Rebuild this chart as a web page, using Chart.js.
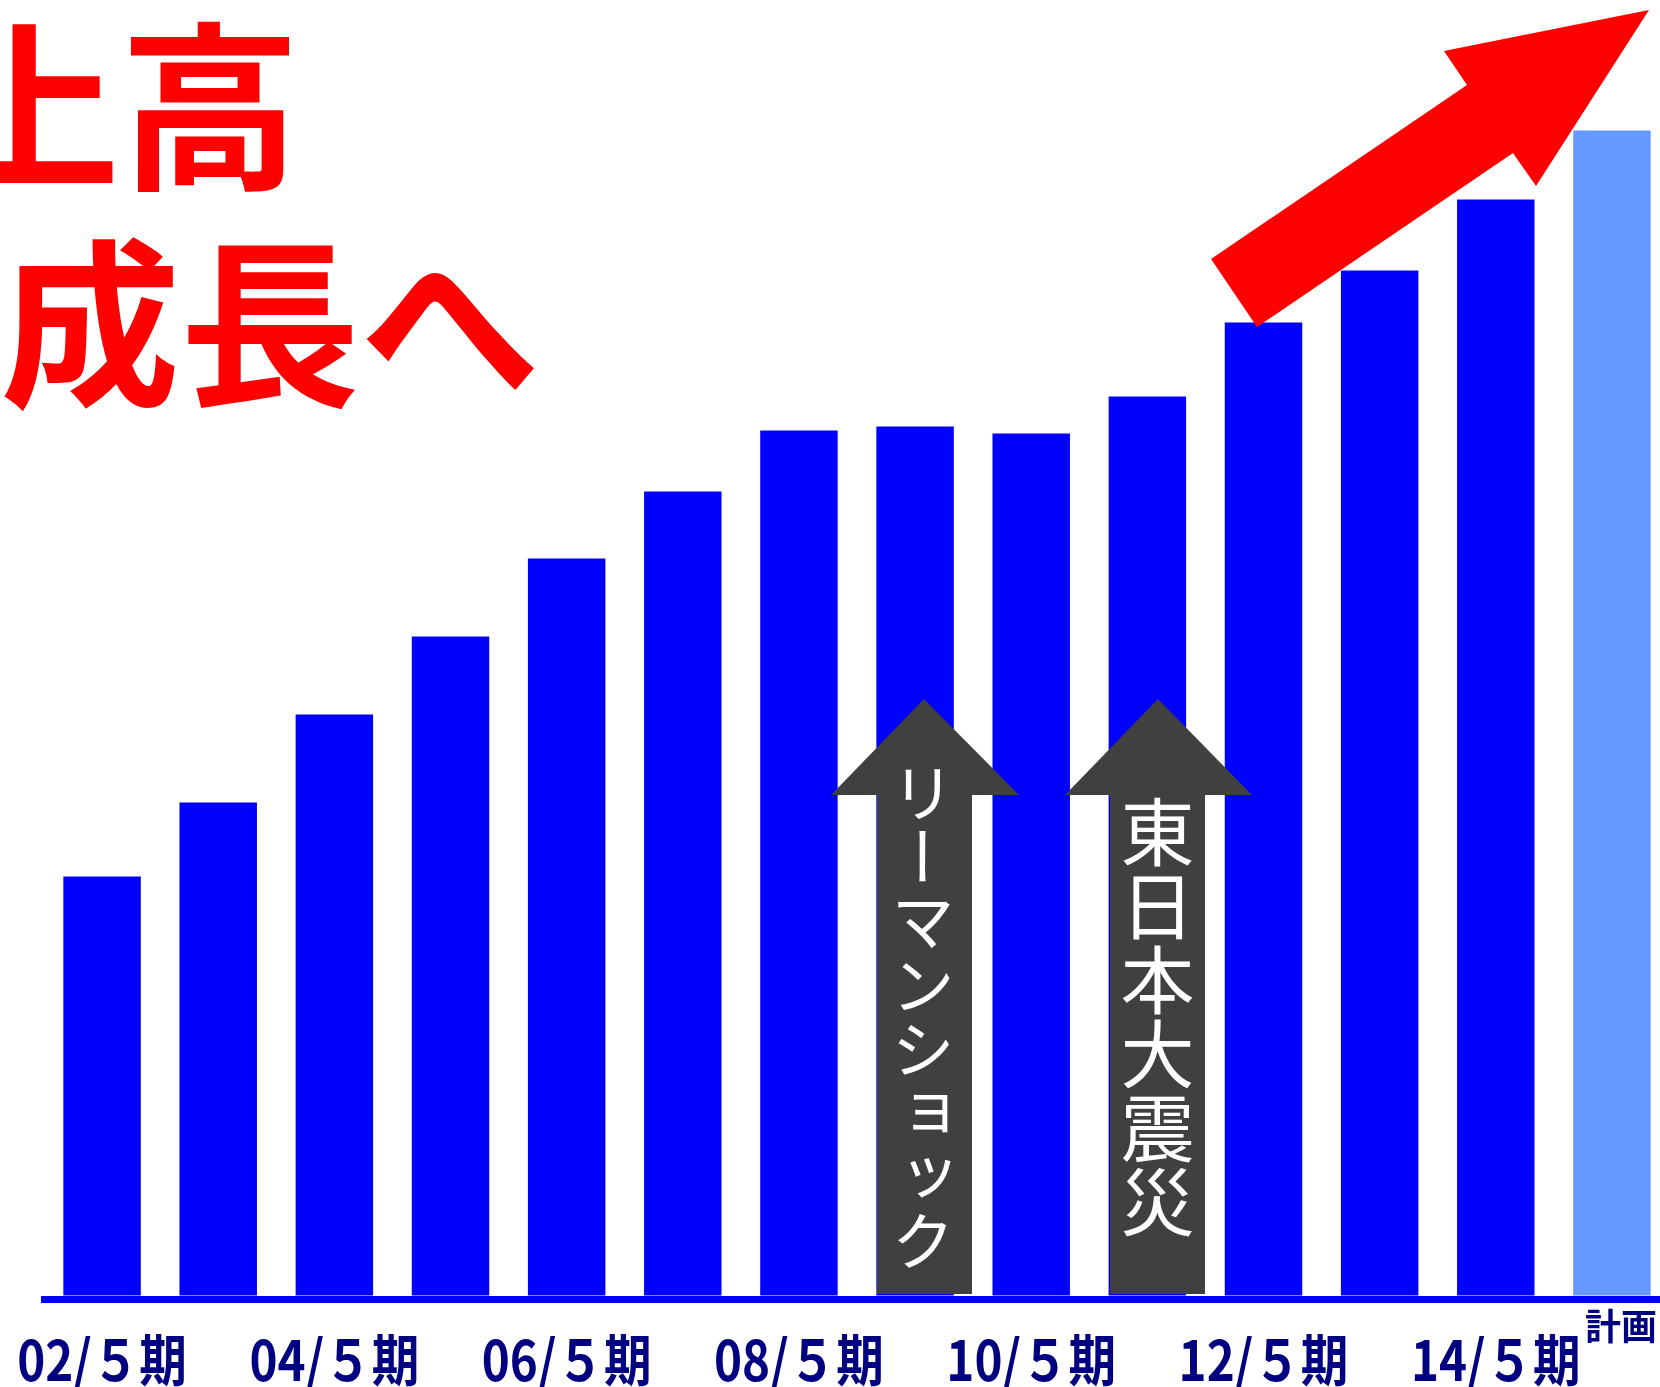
<!DOCTYPE html>
<html lang="ja">
<head>
<meta charset="utf-8">
<title>売上高 成長へ</title>
<script src="https://cdn.jsdelivr.net/npm/chart.js@4.4.1/dist/chart.umd.min.js"></script>
<style>
  html, body { margin: 0; padding: 0; background: #fff; overflow: hidden; }
  #wrap { position: relative; width: 1660px; height: 1387px; overflow: hidden; }
  /* 計画期の棒が右端で切れるよう、キャンバスは少し広く取る */
  #sales { position: absolute; left: 0; top: 0; }
  #shapes { position: absolute; left: 0; top: 0; pointer-events: none; }
  .title {
    position: absolute; color: #ff0000; white-space: nowrap;
    font-family: "Noto Sans CJK JP", sans-serif; font-weight: 700;
    font-size: 180px; line-height: 1;
  }
  .event {
    position: absolute; color: #fff; writing-mode: vertical-rl;
    font-family: "Noto Sans CJK JP", sans-serif; font-weight: 400;
    line-height: 1; white-space: nowrap;
  }
  #plan {
    position: absolute; left: 1585px; top: 1306px; color: #000080;
    font-family: "Noto Sans CJK JP", sans-serif; font-weight: 700;
    font-size: 36px; line-height: 1;
  }
</style>
</head>
<body>
<div id="wrap">
  <canvas id="sales" width="1670" height="1387"></canvas>

  <svg id="shapes" width="1660" height="1387">
    <!-- 右肩上がりの矢印 -->
    <polygon fill="#ff0000"
      points="1211,259 1467,85 1444,51 1649,10 1536,186 1513,153 1257,327"/>
    <!-- 出来事の矢印 -->
    <polygon fill="#404040"
      points="924,699 1019,795 972,795 972,1294 877,1294 877,795 831,795"/>
    <polygon fill="#404040"
      points="1158,699 1252,795 1205,795 1205,1294 1110,1294 1110,795 1065,795"/>
  </svg>

  <div class="title" style="left:-60px; top:7px;">上高</div>
  <div class="title" style="left:0px; top:224px;">成長へ</div>

  <div class="event" style="left:891px; top:761px; font-size:64px;">リーマンショック</div>
  <div class="event" style="left:1120px; top:795px; font-size:74px;">東日本大震災</div>

  <div id="plan">計画</div>
</div>

<script>
// 決算期（5月期）
const periods = ["02", "03", "04", "05", "06", "07", "08", "09", "10", "11", "12", "13", "14", "15"];
// 売上高（相対値）
const sales = [41.9, 49.3, 58.1, 65.9, 73.7, 80.4, 86.5, 86.9, 86.2, 89.9, 97.3, 102.5, 109.6, 116.5];
// 最終期は計画値
const isPlan = [false, false, false, false, false, false, false, false, false, false, false, false, false, true];

const labels = periods.map((p) => p + "/５期");
const colors = isPlan.map((plan) => (plan ? "#6699ff" : "#0000ff"));

// 期ラベルは縦長の書体に見せるため横方向を詰めて描く
const periodLabels = {
  id: "periodLabels",
  afterDraw(chart) {
    const x = chart.scales.x;
    const c = chart.ctx;
    c.save();
    c.fillStyle = "#000080";
    c.font = "bold 56px 'Noto Sans CJK JP', sans-serif";
    c.textAlign = "center";
    c.textBaseline = "alphabetic";
    labels.forEach((text, i) => {
      if (isPlan[i] || i % 2 !== 0) return;
      c.save();
      c.translate(x.getPixelForValue(i), x.top + 82);
      c.scale(0.85, 1);
      c.fillText(text, 0, 0);
      c.restore();
    });
    c.restore();
  },
};

const ctx = document.getElementById("sales").getContext("2d");
new Chart(ctx, {
  type: "bar",
  data: {
    labels: labels,
    datasets: [
      {
        label: "売上高",
        data: sales,
        backgroundColor: colors,
        borderWidth: 0,
        barPercentage: 0.667,
        categoryPercentage: 1,
      },
    ],
  },
  options: {
    responsive: false,
    animation: false,
    layout: { padding: { left: 44, right: 0, top: 0, bottom: 0 } },
    plugins: {
      legend: { display: false },
      tooltip: { enabled: false },
    },
    scales: {
      x: {
        grid: { display: false, drawTicks: false },
        border: { display: true, color: "#0000ff", width: 7 },
        ticks: { display: false },
        afterFit: (scale) => {
          scale.height = 88;
          scale.paddingLeft = 0;
          scale.paddingRight = 0;
        },
      },
      y: {
        display: false,
        min: -0.35,
        max: 129.55,
      },
    },
  },
  plugins: [periodLabels],
});
</script>
</body>
</html>
